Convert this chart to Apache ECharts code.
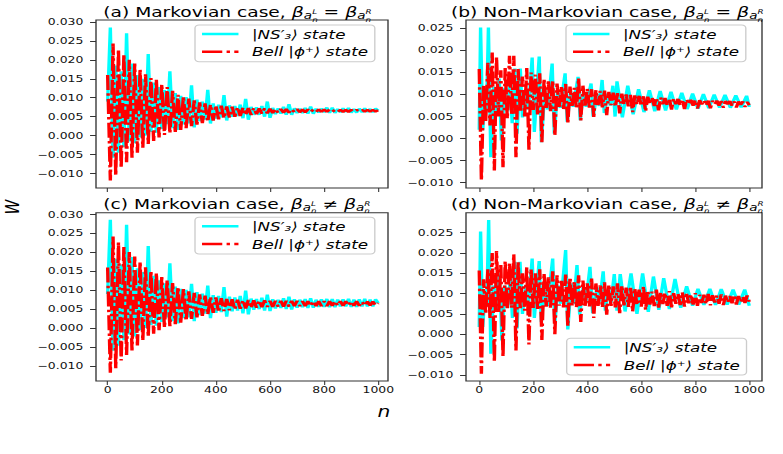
<!DOCTYPE html>
<html><head><meta charset="utf-8">
<script src="https://cdn.jsdelivr.net/npm/echarts@6.0.0/dist/echarts.min.js"></script>
<style>
html,body{margin:0;padding:0;background:#fff;overflow:hidden;width:783px;height:454px;}
#chart{width:580px;height:454px;transform:scaleX(1.35);transform-origin:0 0;}
</style></head><body><div id="chart"></div>
<script>
// ---------------- data ----------------
const cyanName = '|NS′₃⟩ state';
const redName = 'Bell |ϕ⁺⟩ state';
const xTickValues = [0, 200, 400, 600, 800, 1000];
const yTicksAC = [-0.010, -0.005, 0.000, 0.005, 0.010, 0.015, 0.020, 0.025, 0.030];
const yTicksBD = [-0.010, -0.005, 0.000, 0.005, 0.010, 0.015, 0.020, 0.025];

const nAC = [0,10,20,30,40,50,60,70,80,90,100,110,120,130,140,150,160,170,180,190,200,210,220,230,240,250,260,270,280,290,300,310,320,330,340,350,360,370,380,390,400,410,420,430,440,450,460,470,480,490,500,510,520,530,540,550,560,570,580,590,600,610,620,630,640,650,660,670,680,690,700,710,720,730,740,750,760,770,780,790,800,810,820,830,840,850,860,870,880,890,900,910,920,930,940,950,960,970,980,990,1000];

const redA = [0.0160,-0.0118,0.0243,-0.0105,0.0228,-0.0085,0.0215,-0.0070,0.0200,-0.0058,
0.0190,-0.0045,0.0175,-0.0032,0.0162,-0.0022,0.0152,-0.0014,0.0148,-0.0005,
0.0136,0.0002,0.0128,0.0006,0.0118,0.0010,0.0108,0.0015,0.0104,0.0020,
0.0098,0.0025,0.0093,0.0029,0.0088,0.0033,0.0085,0.0037,0.0082,0.0040,
0.0080,0.0043,0.0079,0.0046,0.0077,0.0048,0.0076,0.0050,0.0075,0.0052,
0.0074,0.0054,0.0073,0.0055,0.0073,0.0057,0.0072,0.0058,0.0072,0.0059,
0.0071,0.0060,0.0071,0.0060,0.0070,0.0061,0.0070,0.0061,0.0070,0.0062,
0.0070,0.0062,0.0069,0.0062,0.0069,0.0062,0.0069,0.0063,0.0069,0.0063,
0.0069,0.0063,0.0069,0.0063,0.0068,0.0063,0.0068,0.0063,0.0068,0.0063,
0.0068,0.0063,0.0068,0.0064,0.0068,0.0064,0.0068,0.0064,0.0068,0.0064,
0.0067];

const cyanA = [0.0090,0.0285,-0.0058,0.0185,-0.0045,0.0170,-0.0030,0.0270,-0.0015,0.0190,
-0.0020,0.0160,-0.0005,0.0150,0.0000,0.0215,0.0010,0.0140,0.0008,0.0128,
0.0018,0.0120,0.0030,0.0170,0.0020,0.0112,0.0015,0.0105,0.0030,0.0102,
0.0032,0.0133,0.0022,0.0095,0.0038,0.0090,0.0042,0.0121,0.0032,0.0085,
0.0045,0.0082,0.0048,0.0107,0.0040,0.0080,0.0050,0.0078,0.0052,0.0082,
0.0046,0.0097,0.0042,0.0076,0.0055,0.0075,0.0055,0.0078,0.0050,0.0090,
0.0047,0.0073,0.0057,0.0072,0.0058,0.0076,0.0055,0.0083,0.0055,0.0072,
0.0060,0.0071,0.0060,0.0073,0.0058,0.0077,0.0058,0.0071,0.0061,0.0071,
0.0062,0.0074,0.0060,0.0074,0.0060,0.0070,0.0062,0.0072,0.0063,0.0073,
0.0061,0.0070,0.0061,0.0071,0.0062,0.0072,0.0063,0.0070,0.0062,0.0071,
0.0066];

const redC = [0.0160,-0.0118,0.0242,-0.0106,0.0227,-0.0086,0.0214,-0.0071,0.0201,-0.0059,
0.0189,-0.0046,0.0176,-0.0033,0.0161,-0.0023,0.0151,-0.0015,0.0146,-0.0006,
0.0135,0.0001,0.0127,0.0005,0.0119,0.0010,0.0109,0.0014,0.0103,0.0019,
0.0097,0.0024,0.0093,0.0028,0.0089,0.0032,0.0086,0.0036,0.0083,0.0040,
0.0081,0.0042,0.0079,0.0045,0.0077,0.0047,0.0076,0.0049,0.0075,0.0051,
0.0074,0.0052,0.0074,0.0053,0.0073,0.0054,0.0073,0.0055,0.0073,0.0056,
0.0072,0.0056,0.0072,0.0057,0.0072,0.0057,0.0072,0.0057,0.0072,0.0058,
0.0072,0.0058,0.0071,0.0058,0.0071,0.0058,0.0071,0.0058,0.0071,0.0058,
0.0071,0.0058,0.0071,0.0059,0.0071,0.0059,0.0071,0.0059,0.0071,0.0059,
0.0071,0.0059,0.0071,0.0059,0.0070,0.0059,0.0070,0.0060,0.0070,0.0060,
0.0066];

const cyanC = [0.0090,0.0286,-0.0060,0.0183,-0.0047,0.0168,-0.0032,0.0273,-0.0017,0.0188,
-0.0022,0.0158,-0.0006,0.0148,0.0000,0.0217,0.0008,0.0138,0.0006,0.0126,
0.0016,0.0118,0.0028,0.0171,0.0018,0.0110,0.0012,0.0104,0.0026,0.0101,
0.0028,0.0117,0.0018,0.0095,0.0034,0.0091,0.0038,0.0112,0.0026,0.0087,
0.0040,0.0085,0.0042,0.0108,0.0030,0.0083,0.0044,0.0081,0.0046,0.0085,
0.0039,0.0099,0.0036,0.0078,0.0048,0.0077,0.0050,0.0080,0.0046,0.0088,
0.0045,0.0076,0.0052,0.0075,0.0053,0.0079,0.0050,0.0083,0.0049,0.0076,
0.0054,0.0075,0.0055,0.0077,0.0053,0.0079,0.0054,0.0075,0.0056,0.0076,
0.0056,0.0077,0.0055,0.0077,0.0055,0.0075,0.0057,0.0076,0.0057,0.0077,
0.0056,0.0075,0.0056,0.0076,0.0057,0.0077,0.0057,0.0075,0.0057,0.0076,
0.0066];

const nBD = [0,8,16,24,32,40,48,56,64,72,80,88,96,104,112,120,128,136,144,152,160,168,176,184,192,200,208,216,224,232,240,248,256,264,272,280,288,296,304,312,320,328,336,344,352,360,368,376,384,392,400,408,416,424,432,440,448,456,464,472,480,488,496,504,512,520,528,536,544,552,560,568,576,584,592,600,608,616,624,632,640,648,656,664,672,680,688,696,704,712,720,728,736,744,752,760,768,776,784,792,800,808,816,824,832,840,848,856,864,872,880,888,896,904,912,920,928,936,944,952,960,968,976,984,992,1000];

const redB = [0.0158,-0.0095,0.0120,0.0040,0.0172,0.0030,0.0195,-0.0072,0.0185,0.0050,
0.0155,-0.0065,0.0160,0.0045,0.0188,0.0055,0.0188,-0.0042,0.0158,0.0060,
0.0141,0.0050,0.0160,-0.0025,0.0150,0.0065,0.0145,0.0055,0.0148,-0.0008,
0.0135,0.0068,0.0130,0.0062,0.0132,0.0007,0.0125,0.0072,0.0118,0.0065,
0.0124,0.0034,0.0118,0.0074,0.0115,0.0068,0.0137,0.0041,0.0120,0.0075,
0.0113,0.0070,0.0112,0.0049,0.0110,0.0076,0.0108,0.0071,0.0109,0.0053,
0.0106,0.0076,0.0104,0.0072,0.0103,0.0057,0.0102,0.0077,0.0100,0.0073,
0.0099,0.0060,0.0098,0.0077,0.0097,0.0074,0.0096,0.0062,0.0095,0.0078,
0.0094,0.0074,0.0093,0.0064,0.0093,0.0078,0.0092,0.0075,0.0091,0.0066,
0.0091,0.0078,0.0090,0.0075,0.0089,0.0067,0.0089,0.0078,0.0088,0.0075,
0.0088,0.0068,0.0087,0.0078,0.0087,0.0075,0.0086,0.0069,0.0086,0.0078,
0.0086,0.0075,0.0085,0.0070,0.0085,0.0078,0.0085,0.0075,0.0084,0.0071,
0.0084,0.0077,0.0084,0.0072,0.0083,0.0076];

const redD = [0.0157,-0.0097,0.0135,0.0050,0.0160,0.0040,0.0200,-0.0068,0.0205,0.0055,
0.0170,-0.0055,0.0180,0.0060,0.0175,0.0065,0.0197,-0.0040,0.0178,0.0062,
0.0150,0.0058,0.0165,-0.0025,0.0160,0.0065,0.0150,0.0062,0.0160,-0.0014,
0.0150,0.0068,0.0140,0.0064,0.0155,0.0000,0.0145,0.0070,0.0135,0.0066,
0.0147,0.0020,0.0140,0.0070,0.0130,0.0066,0.0145,0.0030,0.0132,0.0070,
0.0125,0.0068,0.0137,0.0040,0.0125,0.0070,0.0120,0.0066,0.0128,0.0048,
0.0122,0.0070,0.0118,0.0066,0.0125,0.0052,0.0120,0.0071,0.0115,0.0067,
0.0118,0.0056,0.0113,0.0072,0.0110,0.0068,0.0118,0.0060,0.0108,0.0073,
0.0105,0.0069,0.0110,0.0063,0.0104,0.0074,0.0102,0.0070,0.0106,0.0066,
0.0101,0.0075,0.0100,0.0072,0.0103,0.0068,0.0099,0.0076,0.0098,0.0073,
0.0101,0.0070,0.0097,0.0077,0.0097,0.0074,0.0099,0.0071,0.0096,0.0078,
0.0095,0.0075,0.0098,0.0072,0.0095,0.0078,0.0094,0.0076,0.0097,0.0073,
0.0094,0.0079,0.0093,0.0077,0.0095,0.0080];

const nCyanB = [0,5,13,21,27,34,43,54,64,74,82,94,104,114,122,132,140,152,160,172,
182,196,204,222,230,243,253,270,278,290,300,318,326,338,348,366,374,386,396,414,
422,436,445,455,463,475,485,495,503,510,530,550,570,590,610,630,650,670,690,710,
730,750,770,790,810,830,850,870,890,910,930,950,970,990,1000];
const cyanB = [0.0020,0.0252,0.0019,0.0095,0.0062,0.0252,-0.0042,0.0118,0.0058,0.0136,
-0.0004,0.0115,0.0062,0.0124,0.0035,0.0159,0.0011,0.0159,0.0048,0.0112,
0.0066,0.0184,0.0015,0.0186,-0.0008,0.0112,0.0066,0.0170,0.0011,0.0110,
0.0070,0.0148,0.0038,0.0108,0.0072,0.0140,0.0042,0.0106,0.0072,0.0125,
0.0050,0.0102,0.0074,0.0133,0.0058,0.0102,0.0075,0.0120,0.0050,0.0130,
0.0048,0.0120,0.0055,0.0112,0.0060,0.0110,0.0062,0.0108,0.0064,0.0106,
0.0066,0.0104,0.0067,0.0102,0.0068,0.0101,0.0069,0.0100,0.0070,0.0099,
0.0070,0.0098,0.0071,0.0097,0.0072];

const nCyanD = [0,5,13,22,28,35,43,54,64,75,84,95,105,115,123,132,140,151,160,172,
182,196,204,222,230,243,253,272,280,292,302,320,328,340,350,362,372,385,395,410,
420,436,446,459,467,478,488,500,510,522,540,562,584,605,626,645,665,683,704,725,
746,768,790,810,832,854,875,896,918,940,961,983,1000];
const cyanD = [0.0018,0.0253,0.0018,0.0110,0.0075,0.0281,-0.0048,0.0120,0.0060,0.0150,
-0.0015,0.0120,0.0065,0.0135,0.0040,0.0178,0.0014,0.0178,0.0050,0.0120,
0.0070,0.0186,0.0040,0.0180,0.0030,0.0125,0.0070,0.0186,0.0027,0.0120,
0.0075,0.0207,0.0012,0.0125,0.0075,0.0170,0.0048,0.0118,0.0078,0.0166,
0.0052,0.0115,0.0080,0.0155,0.0058,0.0112,0.0078,0.0148,0.0058,0.0148,
0.0056,0.0150,0.0050,0.0150,0.0055,0.0142,0.0060,0.0138,0.0062,0.0136,
0.0065,0.0118,0.0070,0.0112,0.0072,0.0112,0.0072,0.0111,0.0073,0.0110,
0.0073,0.0110,0.0070];

// ---------------- layout / style ----------------
const S = 1.35;               // the reference picture is stretched horizontally
const P = x => x / S;         // picture px -> chart px
const F = 'DejaVu Sans';
const CYAN = '#00ffff', RED = '#ff0000';
const DASHDOT = [15, 3.2, 2.5, 3.2];

const pairs = (xs, ys) => xs.map((x, i) => [x, ys[i]]);

const panels = [
  {grid: {left: P(96), top: 20, width: P(292), height: 168}, xr: [-43, 1036], yr: [-0.0138, 0.0305], yt: yTicksAC, xl: false,
   title: '{t|(a) Markovian case, }{b|β}{a|a}{s|L}{n|n}{t| = }{b|β}{a|a}{s|R}{n|n}', tl: P(103.3), tt: 11.5,
   lg: {left: P(195), top: 25}, cy: pairs(nAC, cyanA), rd: pairs(nAC, redA)},
  {grid: {left: P(466), top: 20, width: P(296), height: 168}, xr: [-49, 1047], yr: [-0.0112, 0.0269], yt: yTicksBD, xl: false,
   title: '{t|(b) Non-Markovian case, }{b|β}{a|a}{s|L}{n|n}{t| = }{b|β}{a|a}{s|R}{n|n}', tl: P(451), tt: 11.5,
   lg: {left: P(566), top: 25}, cy: pairs(nCyanB, cyanB), rd: pairs(nBD, redB)},
  {grid: {left: P(96), top: 212.7, width: P(292), height: 168.3}, xr: [-43, 1036], yr: [-0.0140, 0.0305], yt: yTicksAC, xl: true,
   title: '{t|(c) Markovian case, }{b|β}{a|a}{s|L}{n|n}{t| ≠ }{b|β}{a|a}{s|R}{n|n}', tl: P(103.3), tt: 203,
   lg: {left: P(195), top: 217.3}, cy: pairs(nAC, cyanC), rd: pairs(nAC, redC)},
  {grid: {left: P(466), top: 212.7, width: P(296), height: 168.3}, xr: [-49, 1047], yr: [-0.0115, 0.0299], yt: yTicksBD, xl: true,
   title: '{t|(d) Non-Markovian case, }{b|β}{a|a}{s|L}{n|n}{t| ≠ }{b|β}{a|a}{s|R}{n|n}', tl: P(451), tt: 203,
   lg: {left: P(566.7), top: 338.3}, cy: pairs(nCyanD, cyanD), rd: pairs(nBD, redD)}
];

const tok = (size, italic, pad, extra) => Object.assign({
  fontFamily: F, fontSize: size, fontStyle: italic ? 'italic' : 'normal', fontWeight: 'normal',
  color: '#000', lineHeight: size, verticalAlign: 'bottom', padding: [0, 0, pad, 0]
}, extra || {});
const titleRich = {
  t: tok(13.8, false, 6),
  b: tok(14, true, 6),
  a: tok(10, true, 4.6),
  s: tok(6.5, true, 10, {width: 0}),
  n: tok(6.5, true, 2.2)
};

const yFmt = v => (v < -1e-9 ? '\u2212' : '') + Math.abs(v).toFixed(3);

const option = {
  animation: false,
  backgroundColor: '#fff',
  textStyle: {fontFamily: F},
  title: panels.map(p => ({
    text: p.title, left: p.tl, top: p.tt, padding: 0, z: 10,
    textStyle: {fontFamily: F, fontSize: 13.8, fontWeight: 'normal', color: '#000', rich: titleRich}
  })),
  grid: panels.map(p => Object.assign({show: true, borderColor: '#333', borderWidth: 1, backgroundColor: 'transparent', containLabel: false, outerBoundsMode: 'none'}, p.grid)),
  xAxis: panels.map((p, i) => ({
    type: 'value', gridIndex: i, min: p.xr[0], max: p.xr[1], position: 'bottom',
    axisLine: {show: false, onZero: false}, splitLine: {show: false},
    axisTick: {show: true, length: 4, customValues: xTickValues, lineStyle: {color: '#333', width: 0.8}},
    axisLabel: {show: p.xl, customValues: xTickValues, margin: 4.5, fontSize: 9.2, color: '#111', fontFamily: F, formatter: v => String(Math.round(v))}
  })),
  yAxis: panels.map((p, i) => ({
    type: 'value', gridIndex: i, min: p.yr[0], max: p.yr[1], position: 'left',
    axisLine: {show: false, onZero: false}, splitLine: {show: false},
    axisTick: {show: true, length: 4.4, customValues: p.yt, lineStyle: {color: '#333', width: 1}},
    axisLabel: {show: true, customValues: p.yt, margin: 9.4, fontSize: 9.2, color: '#111', fontFamily: F, formatter: yFmt}
  })),
  legend: panels.map(p => ({
    data: [cyanName, redName], orient: 'vertical', left: p.lg.left, top: p.lg.top,
    padding: [2, 5, 3, 4], itemWidth: 27, itemHeight: 14, itemGap: 3.7,
    backgroundColor: 'rgba(255,255,255,0.8)', borderColor: '#cccccc', borderWidth: 1, borderRadius: 3,
    selectedMode: false, itemStyle: {opacity: 0}, lineStyle: {width: 2.4},
    textStyle: {fontFamily: F, fontStyle: 'italic', fontSize: 12.4, color: '#000', lineHeight: 14, padding: [0, 0, 0, 5]}
  })),
  series: panels.flatMap((p, i) => ([
    {name: cyanName, type: 'line', xAxisIndex: i, yAxisIndex: i, data: p.cy, symbol: 'none', silent: true, z: 2,
     lineStyle: {color: CYAN, width: 2.5}, itemStyle: {color: CYAN}},
    {name: redName, type: 'line', xAxisIndex: i, yAxisIndex: i, data: p.rd, symbol: 'none', silent: true, z: 3,
     lineStyle: {color: RED, width: 2.5, type: DASHDOT}, itemStyle: {color: RED}}
  ])),
  graphic: [
    {type: 'text', x: P(12), y: 207, rotation: Math.PI / 2, silent: true,
     style: {text: 'W', fontFamily: F, fontSize: 15, fontStyle: 'italic', fill: '#000', align: 'center', verticalAlign: 'middle'}},
    {type: 'text', x: P(384), y: 412, silent: true,
     style: {text: 'n', fontFamily: F, fontSize: 15, fontStyle: 'italic', fill: '#000', align: 'center', verticalAlign: 'middle'}}
  ]
};

const chart = echarts.init(document.getElementById('chart'), null, {renderer: 'svg', width: 580, height: 454});
chart.setOption(option);
</script></body></html>
